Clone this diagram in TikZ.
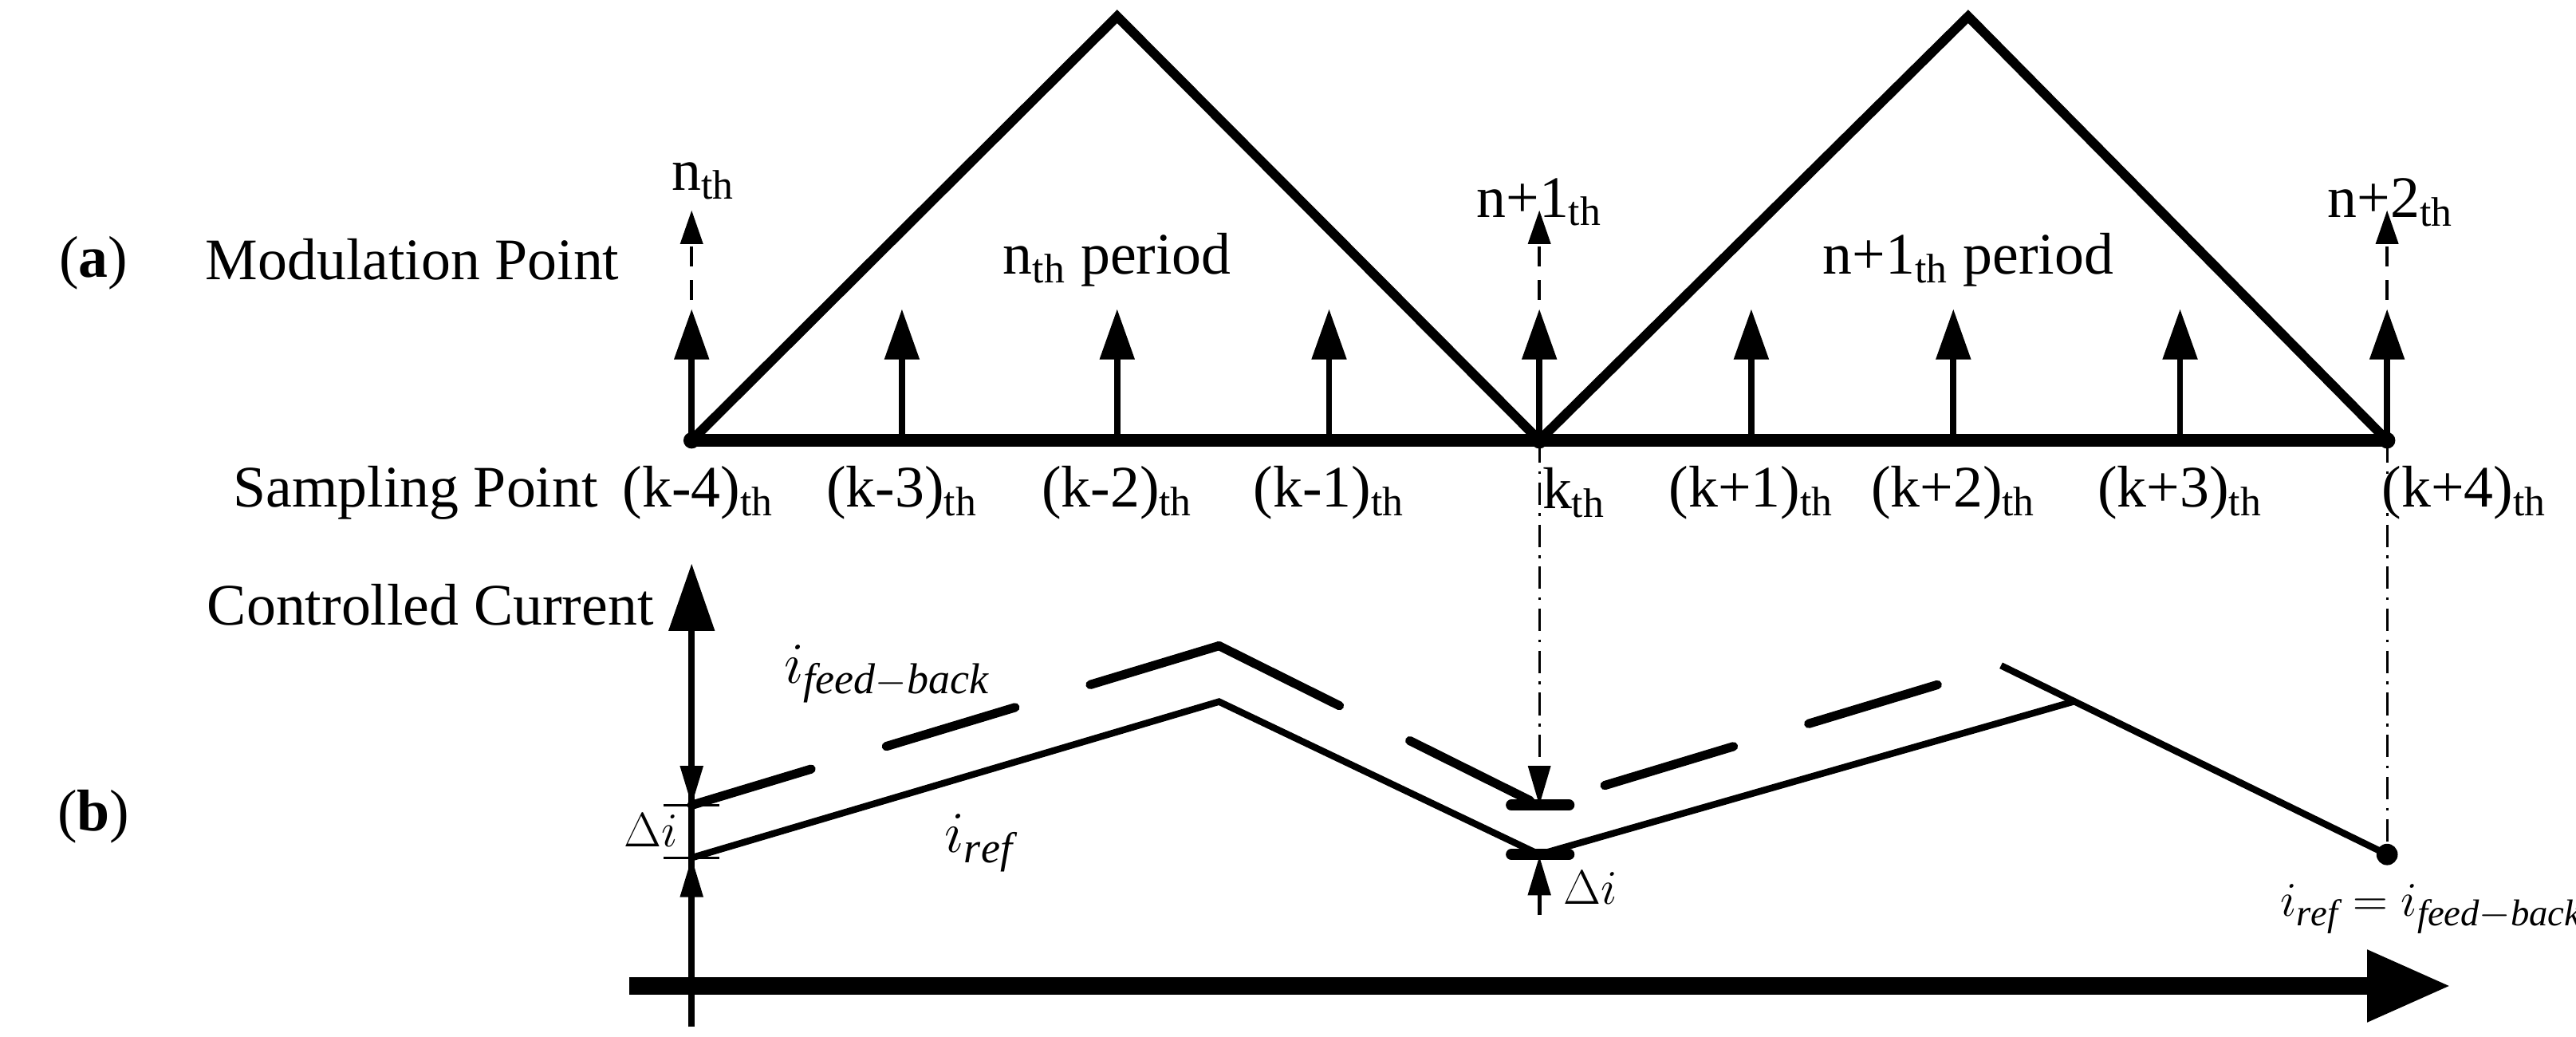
\documentclass[tikz,border=0pt]{standalone}
\usepackage{fontspec}
\setmainfont{Liberation Serif}
\usetikzlibrary{arrows.meta}
\begin{document}
\begin{tikzpicture}[x=0.0206cm,y=-0.0206cm,
  txt/.style={font=\fontsize{21}{24}\selectfont,inner sep=1pt},
  mth/.style={font=\fontsize{22}{24}\selectfont,inner sep=1pt},
  tri/.style={line width=3.4pt,line join=miter},
  samp/.style={line width=2.2pt,-{Triangle[length=18pt,width=12pt]}},
  mod/.style={line width=1pt,dash pattern=on 7pt off 5pt,-{Triangle[length=12pt,width=8pt]}},
  dd/.style={line width=0.8pt,dash pattern=on 8pt off 3pt on 1pt off 3pt},
  cur/.style={line width=2.4pt},
  fb/.style={line width=3.2pt,line cap=round,dash pattern=on 48pt off 28pt},
  tick/.style={line width=4pt,line cap=round}]
\useasboundingbox (0,0) rectangle (1568,630.6);
\coordinate (b0) at (421,268); \coordinate (b4) at (937,268); \coordinate (b8) at (1453,268);
\coordinate (p1) at (680,10); \coordinate (p2) at (1198,10);
\draw[tri] (b0) -- (p1) -- (b4) -- (p2) -- (b8);
\draw[line width=4.5pt] (b0) -- (b8);
\fill (b0) circle (5); \fill (b4) circle (5); \fill (b8) circle (5);
\foreach \x in {421,549,680,809,937,1066,1189,1327,1453}
  \draw[samp] (\x,268) -- (\x,188);
\foreach \x in {421,937,1453}
  \draw[mod] (\x,203) -- (\x,128);
\node[txt] (nth) at (428,110) {n\textsubscript{th}};
\node[txt] (n1th) at (937,123) {n+1\textsubscript{th}};
\node[txt] (n2th) at (1455,123) {n+2\textsubscript{th}};
\node[txt] (np) at (680,158) {n\textsubscript{th} period};
\node[txt] (n1p) at (1198,158) {n+1\textsubscript{th} period};
\node[txt] (mp) at (251,158) {Modulation Point};
\node[txt] (a) at (57,160) {(\textbf{a})};
\node[txt] (b) at (57,497) {(\textbf{b})};
\node[txt] (sp) at (253,300) {Sampling Point};
\node[txt] at (425,300) {(k-4)\textsubscript{th}};
\node[txt] at (549,300) {(k-3)\textsubscript{th}};
\node[txt] at (680,300) {(k-2)\textsubscript{th}};
\node[txt] at (809,300) {(k-1)\textsubscript{th}};
\node[txt] at (958,300) {k\textsubscript{th}};
\node[txt] at (1066,300) {(k+1)\textsubscript{th}};
\node[txt] at (1189,300) {(k+2)\textsubscript{th}};
\node[txt] at (1327,300) {(k+3)\textsubscript{th}};
\node[txt] at (1500,300) {(k+4)\textsubscript{th}};
\node[txt] (cc) at (262,368) {Controlled Current};
\draw[line width=2.2pt,-{Triangle[length=24pt,width=16pt]}] (421,625) -- (421,343);
\draw[line width=6.5pt,-{Triangle[length=30pt,width=24pt]}] (383,600) -- (1492,600);
\coordinate (r0) at (421,522); \coordinate (r1) at (742,427); \coordinate (r2) at (937,520);
\coordinate (r3) at (1262,427); \coordinate (r4) at (1453,520);
\coordinate (f0) at (421,490); \coordinate (f1) at (742,393); \coordinate (f2) at (937,490);
\coordinate (f3) at (1218,405);
\draw[cur] (r0) -- (r1) -- (r2) -- (r3);
\draw[fb] (f1) -- (f0);
\draw[fb] (f1) -- (f2) -- (f3);
\draw[cur] (f3) -- (r4);
\fill (r4) circle (6.5);
\draw[line width=1pt] (404,490) -- (438,490) (404,522) -- (438,522);
\draw[line width=1.4pt,-{Triangle[length=14pt,width=8pt]}] (421,468) -- (421,490);
\draw[line width=1.4pt,-{Triangle[length=14pt,width=8pt]}] (421,547) -- (421,522);
\draw[tick] (920,490) -- (955,490); \draw[tick] (920,520) -- (955,520);
\draw[dd,-{Triangle[length=14pt,width=8pt]}] (b4) -- (937,490);
\draw[line width=1.4pt,-{Triangle[length=14pt,width=8pt]}] (937,557) -- (937,521);
\draw[dd] (b8) -- (r4);
\node[mth,font=\fontsize{18}{20}\selectfont] at (396,505) {$\Delta i$};
\node[mth,font=\fontsize{18}{20}\selectfont] at (968,540) {$\Delta i$};
\node[mth] at (540,410) {$i_{\mathit{feed-back}}$};
\node[mth] at (596,513) {$i_{\mathit{ref}}$};
\node[mth,font=\fontsize{19}{22}\selectfont] at (1480,553) {$i_{\mathit{ref}}=i_{\mathit{feed-back}}$};
\end{tikzpicture}
\end{document}
